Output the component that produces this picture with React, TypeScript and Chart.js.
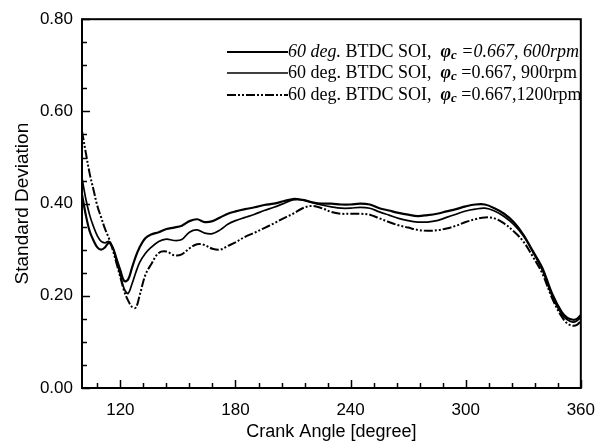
import React, { useEffect, useRef } from "react";
import { Chart, registerables } from "chart.js";

Chart.register(...registerables);

// Crank angle [degree]
const angles = [
  100, 102, 104, 106, 108, 110, 112, 114, 116, 118, 120, 122, 124, 126, 128, 130,
  133, 136, 140, 144, 148, 152, 156, 160, 164, 168, 172, 176, 180, 185, 190, 195,
  200, 205, 210, 215, 220, 225, 230, 235, 240, 245, 250, 255, 260, 265, 270, 275,
  280, 285, 290, 295, 300, 305, 310, 315, 320, 325, 330, 335, 340, 345, 350, 353,
  356, 358, 360,
];

// 60 deg. BTDC SOI, phi_c = 0.667, 600 rpm
const sd600 = [
  0.42, 0.375, 0.34, 0.32, 0.305, 0.30, 0.305, 0.315, 0.305, 0.28, 0.255, 0.232, 0.235, 0.26, 0.285, 0.305,
  0.325, 0.333, 0.338, 0.345, 0.348, 0.352, 0.362, 0.366, 0.36, 0.362, 0.37, 0.378, 0.383, 0.388, 0.392, 0.397,
  0.40, 0.405, 0.41, 0.408, 0.403, 0.40, 0.40, 0.398, 0.398, 0.40, 0.398, 0.39, 0.385, 0.38, 0.376, 0.373,
  0.375, 0.378, 0.383, 0.388, 0.394, 0.398, 0.398, 0.39, 0.378, 0.36, 0.333, 0.297, 0.26, 0.205, 0.165, 0.152,
  0.148, 0.15, 0.158,
];

// 60 deg. BTDC SOI, phi_c = 0.667, 900 rpm
const sd900 = [
  0.456, 0.41, 0.375, 0.35, 0.33, 0.318, 0.315, 0.318, 0.305, 0.275, 0.245, 0.215, 0.205, 0.225, 0.25, 0.272,
  0.292, 0.305, 0.318, 0.323, 0.32, 0.322, 0.338, 0.343, 0.336, 0.335, 0.343, 0.355, 0.363, 0.37, 0.377, 0.385,
  0.392, 0.40, 0.408, 0.408, 0.402, 0.397, 0.393, 0.39, 0.39, 0.392, 0.39, 0.382, 0.375, 0.368, 0.363, 0.36,
  0.36, 0.363, 0.37, 0.377, 0.384, 0.388, 0.39, 0.384, 0.372, 0.355, 0.33, 0.295, 0.255, 0.20, 0.16, 0.148,
  0.143, 0.146, 0.153,
];

// 60 deg. BTDC SOI, phi_c = 0.667, 1200 rpm
const sd1200 = [
  0.557, 0.51, 0.465, 0.43, 0.395, 0.37, 0.345, 0.325, 0.30, 0.27, 0.24, 0.21, 0.19, 0.176, 0.174, 0.20,
  0.245, 0.268, 0.293, 0.296, 0.288, 0.29, 0.303, 0.312, 0.31, 0.302, 0.30, 0.308, 0.316, 0.328, 0.337, 0.347,
  0.357, 0.368, 0.378, 0.39, 0.395, 0.39, 0.382, 0.378, 0.378, 0.378, 0.376, 0.368, 0.36, 0.353, 0.348, 0.343,
  0.341, 0.342, 0.346, 0.352, 0.36, 0.366, 0.37, 0.368, 0.357, 0.34, 0.318, 0.285, 0.248, 0.195, 0.155, 0.14,
  0.135, 0.137, 0.145,
];

const xTicks = [120, 180, 240, 300, 360];
const yTicks = [0, 0.2, 0.4, 0.6, 0.8];
const rpmLabels = [" =0.667, 600rpm", " =0.667, 900rpm", " =0.667,1200rpm"];
const legendPrefix = "60 deg. BTDC SOI,  ";

const X_MIN = 100;
const X_MAX = 360;
const X_MINOR_STEP = 12;
const Y_MINOR_STEP = 0.05;

const dashDot = [9, 2, 2, 2, 2, 2];

const framePlugin = {
  id: "frameTicks",
  afterDraw(chart: any) {
    const { ctx, chartArea, scales } = chart;
    const xs = scales.x;
    const ys = scales.y;
    ctx.save();
    ctx.strokeStyle = "#000";
    // frame
    ctx.lineWidth = 2;
    ctx.strokeRect(chartArea.left, chartArea.top, chartArea.right - chartArea.left, chartArea.bottom - chartArea.top);
    // y ticks (inward)
    ctx.lineWidth = 1.5;
    for (let v = 0; v <= 0.8 + 1e-9; v += Y_MINOR_STEP) {
      const isMajor = yTicks.some((t) => Math.abs(t - v) < 1e-6);
      const py = Math.round(ys.getPixelForValue(v)) + 0.5;
      ctx.beginPath();
      ctx.moveTo(chartArea.left, py);
      ctx.lineTo(chartArea.left + (isMajor ? 8 : 5), py);
      ctx.stroke();
    }
    // x ticks (inward)
    for (let v = 108; v <= X_MAX; v += X_MINOR_STEP) {
      const isMajor = xTicks.includes(v);
      const px = Math.round(xs.getPixelForValue(v)) + 0.5;
      ctx.beginPath();
      ctx.moveTo(px, chartArea.bottom);
      ctx.lineTo(px, chartArea.bottom - (isMajor ? 8 : 5));
      ctx.stroke();
    }
    ctx.restore();

    // legend
    const rows = [
      { y: 52, dash: [] as number[], width: 2, italicHead: true, italicTail: true },
      { y: 73, dash: [] as number[], width: 1.6, italicHead: false, italicTail: false },
      { y: 95, dash: dashDot, width: 2, italicHead: false, italicTail: false },
    ];
    const fs = 18;
    const serif = '"Liberation Serif", "DejaVu Serif", serif';
    ctx.save();
    ctx.fillStyle = "#000";
    ctx.textBaseline = "middle";
    rows.forEach((r, i) => {
      ctx.strokeStyle = "#000";
      ctx.lineWidth = r.width;
      ctx.setLineDash(r.dash);
      ctx.beginPath();
      ctx.moveTo(227, r.y);
      ctx.lineTo(288, r.y);
      ctx.stroke();
      ctx.setLineDash([]);
      let x = 288;
      const seg = (text: string, font: string, dy = 0) => {
        ctx.font = font;
        ctx.fillText(text, x, r.y + dy);
        x += ctx.measureText(text).width;
      };
      if (r.italicHead) {
        seg("60 deg.", `italic ${fs}px ${serif}`);
        seg(" BTDC SOI,  ", `${fs}px ${serif}`);
      } else {
        seg(legendPrefix, `${fs}px ${serif}`);
      }
      seg("\u03C6", `italic bold ${fs}px ${serif}`);
      seg("c", `italic bold ${Math.round(fs * 0.7)}px ${serif}`, 4);
      seg(rpmLabels[i], `${r.italicTail ? "italic " : ""}${fs}px ${serif}`);
    });
    ctx.restore();
  },
};

export default function App() {
  const canvasRef = useRef<HTMLCanvasElement | null>(null);

  useEffect(() => {
    if (!canvasRef.current) return;
    const sans = '"Liberation Sans", Arial, sans-serif';
    const chart = new Chart(canvasRef.current, {
      type: "line",
      data: {
        datasets: [
          {
            label: "600rpm",
            data: angles.map((a, i) => ({ x: a, y: sd600[i] })),
            borderColor: "#000",
            borderWidth: 2.2,
            pointRadius: 0,
            tension: 0.35,
            fill: false,
          },
          {
            label: "900rpm",
            data: angles.map((a, i) => ({ x: a, y: sd900[i] })),
            borderColor: "#000",
            borderWidth: 1.7,
            pointRadius: 0,
            tension: 0.35,
            fill: false,
          },
          {
            label: "1200rpm",
            data: angles.map((a, i) => ({ x: a, y: sd1200[i] })),
            borderColor: "#000",
            borderWidth: 2,
            borderDash: dashDot,
            pointRadius: 0,
            tension: 0.35,
            fill: false,
          },
        ],
      },
      options: {
        animation: false,
        responsive: false,
        maintainAspectRatio: false,
        layout: { padding: { left: 0, right: 15, top: 18, bottom: 0 } },
        plugins: { legend: { display: false }, tooltip: { enabled: false } },
        scales: {
          x: {
            type: "linear",
            min: X_MIN,
            max: X_MAX,
            afterBuildTicks: (s: any) => {
              s.ticks = xTicks.map((v) => ({ value: v }));
            },
            afterFit: (s: any) => {
              s.height = 58;
            },
            grid: { display: false, drawTicks: false },
            border: { display: false },
            ticks: { color: "#000", font: { family: sans, size: 17 }, padding: 12, maxRotation: 0 },
            title: {
              display: true,
              text: "Crank Angle [degree]",
              color: "#000",
              font: { family: sans, size: 18 },
              padding: { top: 0, bottom: 3 },
            },
          },
          y: {
            type: "linear",
            min: 0,
            max: 0.8,
            afterBuildTicks: (s: any) => {
              s.ticks = yTicks.map((v) => ({ value: v }));
            },
            afterFit: (s: any) => {
              s.width = 82;
            },
            grid: { display: false, drawTicks: false },
            border: { display: false },
            ticks: {
              color: "#000",
              font: { family: sans, size: 17 },
              padding: 9,
              callback: (v: any) => Number(v).toFixed(2),
            },
            title: {
              display: true,
              text: "Standard Deviation",
              color: "#000",
              font: { family: sans, size: 19 },
              padding: { top: 11, bottom: 0 },
            },
          },
        },
      },
      plugins: [framePlugin],
    });
    return () => chart.destroy();
  }, []);

  return (
    <div style={{ position: "fixed", left: 0, top: 0, width: 607, height: 446, background: "#fff" }}>
      <canvas ref={canvasRef} width={607} height={446} style={{ display: "block" }} />
    </div>
  );
}
